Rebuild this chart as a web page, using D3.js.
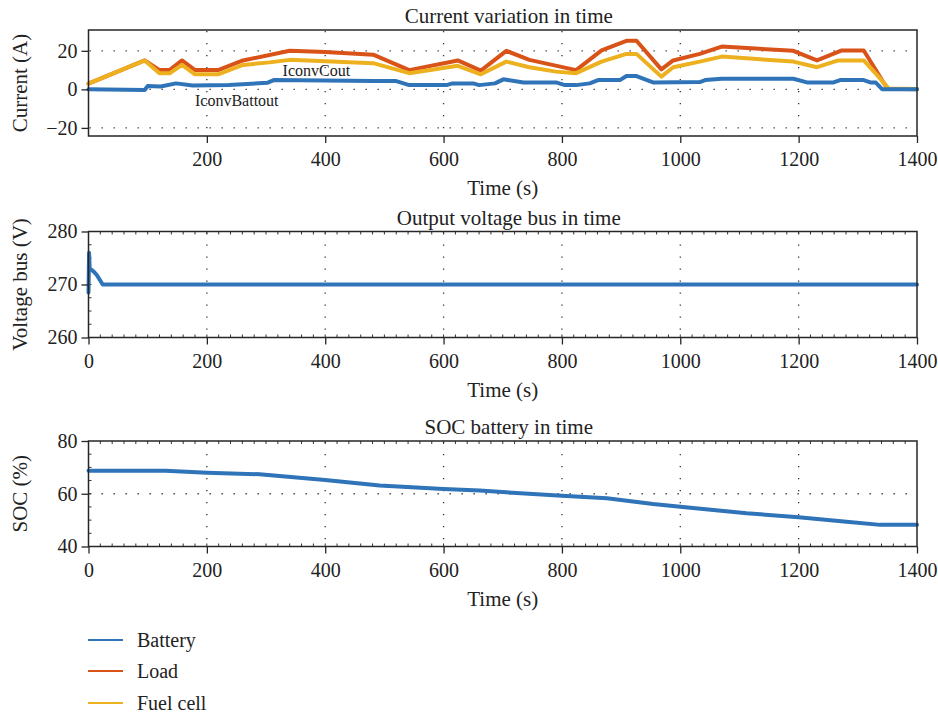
<!DOCTYPE html>
<html><head><meta charset="utf-8">
<script src="https://cdn.jsdelivr.net/npm/d3@7"></script>
<style>body{margin:0;background:#fff}svg{display:block}text{font-family:'Liberation Serif','DejaVu Serif',serif}</style>
</head><body>
<svg id="c" width="938" height="715"></svg>
<script>
// ---------- data ----------
const loadT = [0,95,120,137,158,180,219,261,340,400,481,542,624,663,706,745,824,867,909,926,968,988,1033,1070,1191,1231,1273,1310,1350,1400];
const loadA = [3,15,10,10,15,10,10,15,20,19.4,18,10,15,9.7,20,15.3,10,20.2,25.2,25.2,10.4,15,18.4,22.2,20,15,20.2,20.2,0.3,0];
const fuelT = [0,95,120,137,158,180,219,261,306,340,481,542,624,663,706,745,790,824,867,909,926,968,988,1033,1070,1191,1231,1267,1310,1335,1352,1400];
const fuelA = [3,15,8.3,8.3,12.7,7.8,7.8,12.7,14,15.3,13.6,8.4,12.2,7.8,14.4,11.5,9.2,8.4,14.4,18.4,18.4,6.6,11.5,14.4,17,14.4,11.5,15,15,6.6,0.4,0.2];
const battT = [0,95,100,122,148,176,237,302,313,400,481,520,542,605,615,650,660,687,701,735,790,805,824,847,861,898,909,926,954,1033,1042,1070,1191,1214,1259,1270,1310,1321,1330,1341,1400];
const battA = [0,-0.3,1.7,1.5,3.1,2,2.3,3.4,4.8,4.6,4.3,4.3,2.2,2.2,3.1,3.1,2.2,3.1,5.2,3.6,3.6,2.2,2.2,3.1,4.8,4.8,6.9,6.9,3.6,3.8,4.8,5.5,5.5,3.6,3.6,4.8,4.8,3.6,3.6,0.1,0];
const voltT = [0,1,2,5,10,14,19,24,1400];
const voltV = [268.5,276,273,272.8,272.3,271.8,270.9,270,270];
const socT = [0,130,200,289,400,492,600,661,800,876,954,1000,1112,1200,1281,1338,1400];
const socV = [68.75,68.7,68.0,67.4,65.2,63.1,61.8,61.2,59.2,58.3,56.1,55.1,52.6,51.1,49.4,48.2,48.2];

const seriesNames = ["Battery","Load","Fuel cell"];
const seriesColors = ["#2f73b8","#d95319","#edb120"];

const topTitle = "Current variation in time", midTitle = "Output voltage bus in time", botTitle = "SOC battery in time";
const xLabel = "Time (s)";
const xTicksTop = [200,400,600,800,1000,1200,1400];
const xTicksAll = [0,200,400,600,800,1000,1200,1400];

// ---------- drawing ----------
const svg = d3.select("#c");
const FONT = "'Liberation Serif', 'DejaVu Serif', serif";
const FS = 20, FL = 21;
const x = d3.scaleLinear().domain([0,1400]).range([88.5,917]);

function panel(o){
  const y = d3.scaleLinear().domain(o.yDomain).range([o.y1,o.y0]);
  const g = svg.append("g");
  const grid = g.append("g").attr("stroke","#333").attr("stroke-width",1.3).attr("stroke-dasharray","1.3,10.7");
  o.xTicks.forEach(v=>{ if(v>0 && v<1400) grid.append("line").attr("x1",x(v)).attr("x2",x(v)).attr("y1",o.y0+1).attr("y2",o.y1); });
  o.yGrid.forEach(v=>{ grid.append("line").attr("x1",x.range()[0]+1).attr("x2",x.range()[1]).attr("y1",y(v)).attr("y2",y(v)); });
  if(o.minorX){
    for(let v=o.minorX; v<1400; v+=o.minorX){
      g.append("line").attr("x1",x(v)).attr("x2",x(v)).attr("y1",o.y0).attr("y2",o.y0+3).attr("stroke","#333");
      g.append("line").attr("x1",x(v)).attr("x2",x(v)).attr("y1",o.y1).attr("y2",o.y1-3).attr("stroke","#333");
    }
  }
  if(o.minorY){
    for(let v=o.yDomain[0]+o.minorY; v<o.yDomain[1]; v+=o.minorY){
      g.append("line").attr("x1",x.range()[0]).attr("x2",x.range()[0]+3).attr("y1",y(v)).attr("y2",y(v)).attr("stroke","#333");
    }
  }
  const line = d3.line().x(d=>x(d[0])).y(d=>y(d[1]));
  o.series.forEach(s=>{
    g.append("path").datum(d3.zip(s.t,s.v)).attr("d",line).attr("fill","none")
      .attr("stroke",s.color).attr("stroke-width",4).attr("stroke-linejoin","round").attr("stroke-linecap","round");
  });
  g.append("rect").attr("x",x.range()[0]).attr("y",o.y0).attr("width",x.range()[1]-x.range()[0]).attr("height",o.y1-o.y0)
    .attr("fill","none").attr("stroke","#262626").attr("stroke-width",1.5);
  const ax = g.append("g").attr("transform",`translate(0,${o.y1})`)
    .call(d3.axisBottom(x).tickValues(o.xTicks).tickSize(7).tickPadding(9).tickFormat(d3.format("d")));
  const ay = g.append("g").attr("transform",`translate(${x.range()[0]},0)`)
    .call(d3.axisLeft(y).tickValues(o.yTicks).tickSize(7).tickPadding(4).tickFormat(d=>d<0?"\u2212"+Math.abs(d):d));
  [ax,ay].forEach(a=>{
    a.attr("font-family",FONT);
    a.select(".domain").remove();
    a.selectAll("line").attr("stroke","#262626").attr("stroke-width",1.3);
    a.selectAll("text").attr("font-family",FONT).attr("font-size",FS).attr("fill","#222");
  });
  g.append("text").attr("x",(x.range()[0]+x.range()[1])/2+6).attr("y",o.y0-7).attr("text-anchor","middle")
    .attr("font-family",FONT).attr("font-size",FL).attr("fill","#222").text(o.title);
  g.append("text").attr("x",(x.range()[0]+x.range()[1])/2).attr("y",o.y1+59).attr("text-anchor","middle")
    .attr("font-family",FONT).attr("font-size",FL).attr("fill","#222").text(xLabel);
  g.append("text").attr("transform",`translate(27,${(o.y0+o.y1)/2}) rotate(-90)`).attr("text-anchor","middle")
    .attr("font-family",FONT).attr("font-size",FL).attr("fill","#222").text(o.yLabel);
  return {g,y};
}

const p1 = panel({y0:30,y1:136,yDomain:[-24.2,30.8],yTicks:[-20,0,20],yGrid:[-20,0,20],xTicks:xTicksTop,
  title:topTitle,yLabel:"Current (A)",
  series:[{t:loadT,v:loadA,color:seriesColors[1]},{t:fuelT,v:fuelA,color:seriesColors[2]},{t:battT,v:battA,color:seriesColors[0]}]});
p1.g.append("text").attr("x",x(328)).attr("y",p1.y(6.8)).attr("font-family",FONT).attr("font-size",16).attr("fill","#222").text("IconvCout");
p1.g.append("text").attr("x",x(180)).attr("y",p1.y(-8.7)).attr("font-family",FONT).attr("font-size",16).attr("fill","#222").text("IconvBattout");

panel({y0:231.5,y1:337.5,yDomain:[260,280],yTicks:[260,270,280],yGrid:[],xTicks:xTicksAll,minorX:20,minorY:2.5,
  title:midTitle,yLabel:"Voltage bus (V)",series:[{t:voltT,v:voltV,color:seriesColors[0]}]});

panel({y0:441,y1:546.5,yDomain:[40,80],yTicks:[40,60,80],yGrid:[60],xTicks:xTicksAll,minorX:20,minorY:5,
  title:botTitle,yLabel:"SOC (%)",series:[{t:socT,v:socV,color:seriesColors[0]}]});

const legY = [640,671,703];
const leg = svg.append("g");
seriesNames.forEach((n,i)=>{
  leg.append("line").attr("x1",88).attr("x2",123).attr("y1",legY[i]).attr("y2",legY[i]).attr("stroke",seriesColors[i]).attr("stroke-width",2);
  leg.append("text").attr("x",137).attr("y",legY[i]).attr("dy","0.35em").attr("font-family",FONT).attr("font-size",FS).attr("fill","#222").text(n);
});
</script>
</body></html>
